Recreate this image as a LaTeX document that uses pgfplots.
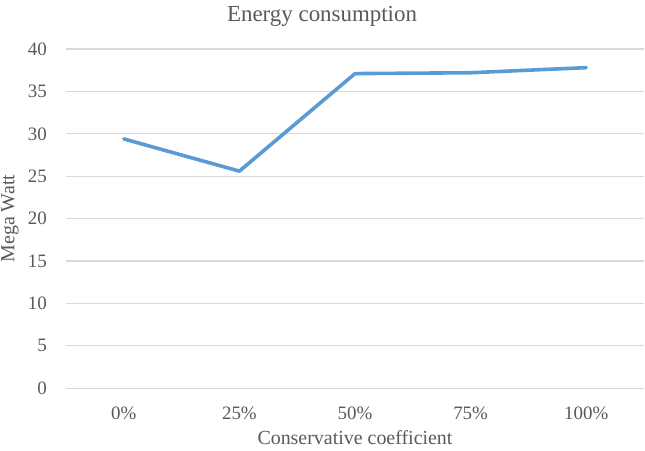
\documentclass[border=0pt]{standalone}
\usepackage{pgfplots}
\pgfplotsset{compat=1.18}
\usepackage{fontspec}
\setmainfont{Liberation Serif}
\definecolor{linecol}{HTML}{5B9BD5}
\definecolor{gridcol}{HTML}{D9D9D9}
\definecolor{txtcol}{HTML}{595959}
\begin{document}
\begin{tikzpicture}
\path[use as bounding box] (-66bp,-62.7bp) rectangle (579bp,388.3bp);
\begin{axis}[
  at={(0,0)}, anchor=south west,
  scale only axis,
  width=578bp, height=339.3bp,
  xmin=-0.5, xmax=4.5,
  ymin=0, ymax=40,
  xtick={0,1,2,3,4},
  xticklabels={0\%,25\%,50\%,75\%,100\%},
  ytick={0,5,...,40},
  axis line style={draw=none},
  major tick length=0pt,
  ymajorgrids,
  grid style={gridcol, line width=1.2bp},
  /pgf/number format/assume math mode=true,
  tick label style={font=\fontsize{19}{20}\selectfont, text=txtcol, inner sep=0pt},
  yticklabel style={anchor=east, xshift=-19bp},
  xticklabel style={anchor=north, yshift=-18bp},
  title={Energy consumption},
  title style={font=\fontsize{23}{26}\selectfont, text=txtcol, at={(axis description cs:0.443,1)}, anchor=center, yshift=27bp},
  xlabel={Conservative coefficient},
  xlabel style={font=\fontsize{20}{22}\selectfont, text=txtcol, at={(axis description cs:0.5,0)}, anchor=center, yshift=-49bp},
  ylabel={Mega Watt},
  ylabel style={font=\fontsize{20}{22}\selectfont, text=txtcol, at={([xshift=-56bp]axis description cs:0,0.5)}, anchor=center, rotate=0},
  clip=false,
]
\addplot[linecol, line width=3.6bp, line join=round, line cap=round, mark=none]
  coordinates {(0,29.4) (1,25.6) (2,37.1) (3,37.2) (4,37.8)};
\end{axis}
\end{tikzpicture}
\end{document}
